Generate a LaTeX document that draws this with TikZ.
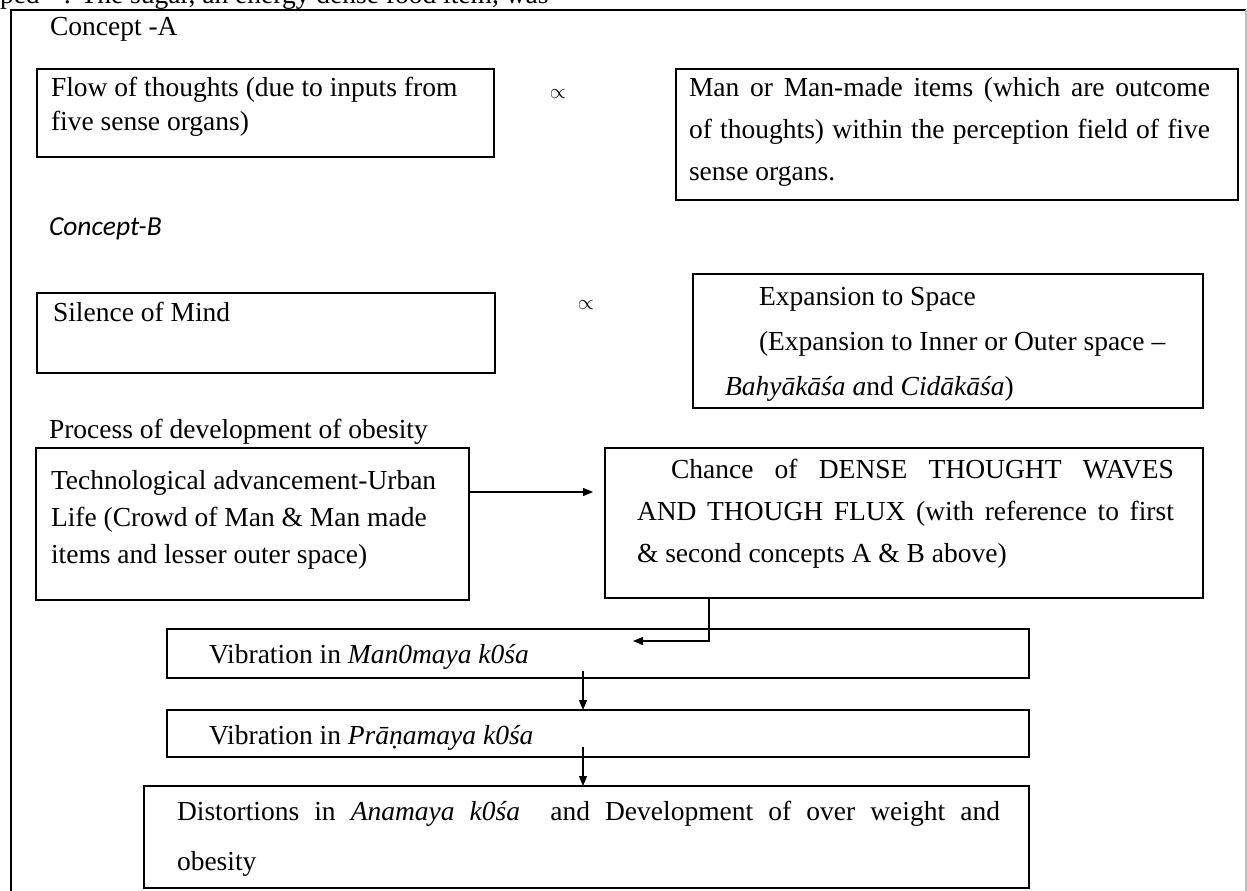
\documentclass[tikz,border=0pt]{standalone}
\usepackage{fontspec}
\setmainfont{Liberation Serif}
\newfontfamily\carl{Carlito}
\usetikzlibrary{arrows.meta}
\newcommand{\ptext}[3]{\parbox[t]{#1pt}{\fontsize{27.5}{#2}\selectfont\raggedright #3}}
\begin{document}
\begin{tikzpicture}[x=1pt,y=-1pt,
  box/.style={draw, line width=1.2pt, inner sep=0pt, outer sep=0pt, anchor=north west},
  txt/.style={anchor=base west, inner sep=0pt, outer sep=0pt, font=\fontsize{27.5}{36}\selectfont},
  arr/.style={line width=1.2pt, -{Triangle[length=10pt,width=8pt]}},
  frame/.style={line width=2.5pt}]
\useasboundingbox (0,0) rectangle (1247,891);
% clipped line of text above the frame
\node[txt] (top) at (0,4) {ped\hspace{24pt}: The sugar, an energy dense food item, was};
% frame
\draw[frame] (11,891) -- (11,10) -- (1246,10);
\draw[black!25, line width=2pt] (1246,10) -- (1246,891);

% Concept A
\node[txt] (ca) at (50,36) {Concept -A};
\node[box, minimum width=457pt, minimum height=88pt] (b1) at (37,69) {};
\node[txt] (t1) at (51,96) {\ptext{440}{34}{Flow of thoughts (due to inputs from\\five sense organs)}};
\node[txt, anchor=center] (p1) at (558,94) {\fontsize{20}{20}\selectfont$\propto$};
\node[box, minimum width=562pt, minimum height=131pt] (b2) at (676,69) {};
\node[txt] (t2) at (689,96) {\ptext{530}{42}{\makebox[521pt][s]{Man or Man-made items (which are outcome}\\\makebox[521pt][s]{of thoughts) within the perception field of five}\\sense organs.}};

% Concept B
\node[txt] (cb) at (49,235) {\carl\itshape Concept-B};
\node[box, minimum width=458pt, minimum height=80pt] (b3) at (37,293) {};
\node[txt] (t3) at (53,321) {Silence of Mind};
\node[txt, anchor=center] (p2) at (586,305) {\fontsize{20}{20}\selectfont$\propto$};
\node[box, minimum width=510pt, minimum height=134pt] (b4) at (693,274) {};
\node[txt] (t4) at (725,305) {\ptext{470}{45}{\hspace*{34pt}Expansion to Space\\\hspace*{34pt}(Expansion to Inner or Outer space –\\\textit{Bahyākāśa a}nd \textit{Cidākāśa})}};

% Process
\node[txt] (pr) at (49,438) {Process of development of obesity};
\node[box, minimum width=433pt, minimum height=152pt] (tech) at (36,448) {};
\node[txt] (t5) at (51,489) {\ptext{415}{37}{Technological advancement-Urban\\Life (Crowd of Man \& Man made\\items and lesser outer space)}};
\node[box, minimum width=598pt, minimum height=150pt] (chance) at (605,448) {};
\node[txt] (t6) at (637,478) {\ptext{550}{42}{\makebox[537pt][s]{\hspace*{34pt}Chance of DENSE THOUGHT WAVES}\\\makebox[537pt][s]{AND THOUGH FLUX (with reference to first}\\\& second concepts A \& B above)}};

\node[box, minimum width=862pt, minimum height=49pt] (mano) at (167,629) {};
\node[txt] (t7) at (209,663) {Vibration in \textit{Man0maya k0śa}};
\node[box, minimum width=862pt, minimum height=47pt] (prana) at (167,710) {};
\node[txt] (t8) at (209,744) {Vibration in \textit{Prāṇamaya k0śa}};
\node[box, minimum width=885pt, minimum height=102pt] (dist) at (144,786) {};
\node[txt] (t9) at (177,820) {\ptext{835}{50}{\makebox[823pt][s]{Distortions in \textit{Anamaya k0śa}\ \ and Development of over weight and}\\obesity}};

% connectors
\coordinate (a1) at (0,492);
\draw[arr] (tech.east |- a1) -- ([xshift=-12pt]chance.west |- a1);
\coordinate (c1) at (709,641);
\coordinate (c2) at (633,641);
\draw[arr] (chance.south -| c1) -- (c1) -- (c2);
\coordinate (v1) at (583,671);
\draw[arr] (v1) -- (prana.north -| v1);
\coordinate (v2) at (583,747);
\draw[arr] (v2) -- (dist.north -| v2);
\end{tikzpicture}
\end{document}
